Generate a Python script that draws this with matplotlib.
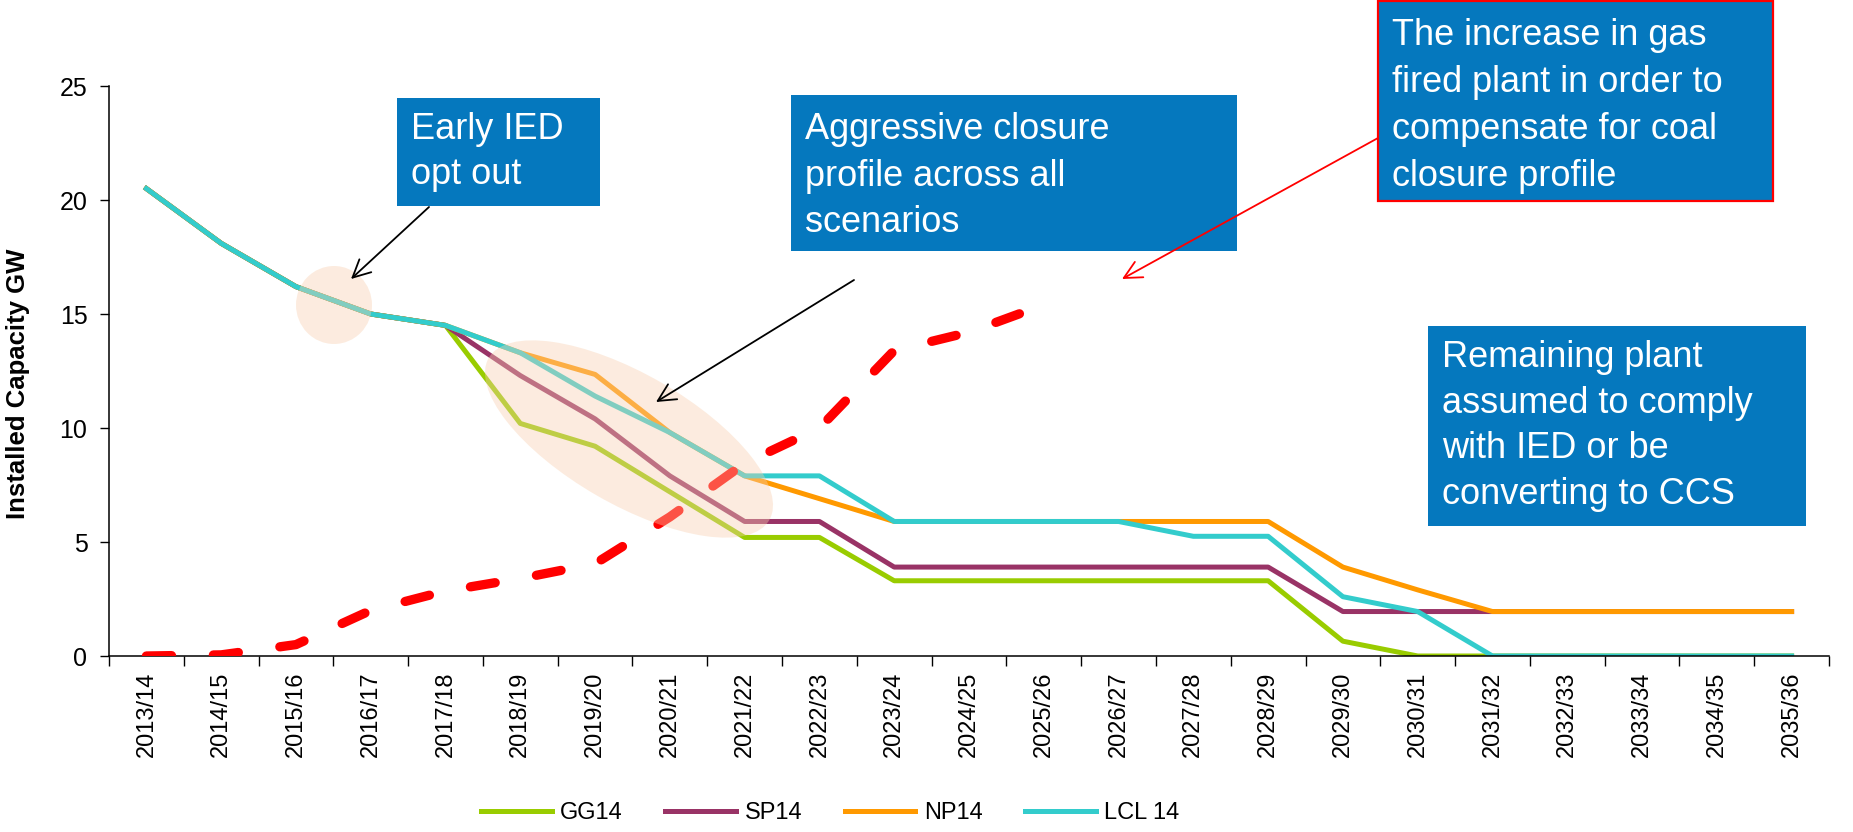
import matplotlib
matplotlib.use("Agg")
import matplotlib.pyplot as plt
import numpy as np
from matplotlib.patches import Ellipse, Rectangle, FancyArrowPatch

plt.rcParams['font.family'] = ['Liberation Sans', 'DejaVu Sans']

# categories
years = ["2013/14", "2014/15", "2015/16", "2016/17", "2017/18", "2018/19",
         "2019/20", "2020/21", "2021/22", "2022/23", "2023/24", "2024/25",
         "2025/26", "2026/27", "2027/28", "2028/29", "2029/30", "2030/31",
         "2031/32", "2032/33", "2033/34", "2034/35", "2035/36"]

# coal capacity by scenario, GW
gg14 = [20.5, 18.1, 16.2, 15.0, 14.5, 10.2, 9.2, 7.2, 5.2, 5.2, 3.3, 3.3,
        3.3, 3.3, 3.3, 3.3, 0.65, 0, 0, 0, 0, 0, 0]
sp14 = [20.5, 18.1, 16.2, 15.0, 14.5, 12.3, 10.4, 7.9, 5.9, 5.9, 3.9, 3.9,
        3.9, 3.9, 3.9, 3.9, 1.95, 1.95, 1.95, 1.95, 1.95, 1.95, 1.95]
np14 = [20.5, 18.1, 16.2, 15.0, 14.5, 13.3, 12.35, 9.8, 7.9, 6.9, 5.9, 5.9,
        5.9, 5.9, 5.9, 5.9, 3.9, 2.9, 1.95, 1.95, 1.95, 1.95, 1.95]
lcl14 = [20.5, 18.1, 16.2, 15.0, 14.5, 13.3, 11.4, 9.8, 7.9, 7.9, 5.9, 5.9,
         5.9, 5.9, 5.25, 5.25, 2.6, 1.95, 0, 0, 0, 0, 0]

# extra gas fired plant, GW (2013/14 .. 2025/26)
gas = [0, 0.05, 0.5, 2.0, 2.85, 3.4, 4.05, 6.1, 8.45, 10.0, 13.4, 14.2, 15.4]

series = [("GG14", gg14, "#99CC00"), ("SP14", sp14, "#993366"),
          ("NP14", np14, "#FF9900"), ("LCL 14", lcl14, "#33CCCC")]

W, H = 1853, 832
fig = plt.figure(figsize=(W / 100, H / 100), dpi=100)
ax = fig.add_axes([109 / W, 1 - 656 / H, (1829 - 109) / W, (656 - 86) / H])

x = np.arange(len(years))
for name, vals, col in series:
    ax.plot(x, vals, color=col, lw=3.6, label=name, zorder=2)

xg = np.arange(len(gas))
ax.plot(xg, gas, color="#FF0000", lw=6.7, dashes=(2.7, 4.5),
        dash_capstyle="round", zorder=3)

ax.set_xlim(-0.5, len(years) - 0.5)
ax.set_ylim(0, 25)
ax.set_yticks(np.arange(0, 26, 5))
ax.set_xticks(np.arange(-0.5, len(years), 1))
ax.set_xticklabels([])
ax.set_xticks(x, labels=years, minor=True, rotation=90)
ax.tick_params(axis="x", which="major", length=7, width=1, direction="out")
ax.tick_params(axis="x", which="minor", length=0, pad=11, labelsize=17)
ax.tick_params(axis="y", length=6.5, width=1, pad=9, labelsize=18)
for s in ["top", "right"]:
    ax.spines[s].set_visible(False)
for s in ["left", "bottom"]:
    ax.spines[s].set_linewidth(1.1)
ax.set_ylabel("Installed Capacity GW", fontsize=18.5, fontweight="bold")
ax.yaxis.set_label_coords(-0.046, 0.477)

fig.legend(loc="center", bbox_to_anchor=(0.448, 0.023), ncol=4,
           frameon=False, fontsize=17, handlelength=3.0,
           handletextpad=0.35, columnspacing=1.8)


# figure pixel helpers (top-left origin)
def fx(px):
    return px / W


def fy(py):
    return 1 - py / H


# shaded ellipses (drawn over the axes, semi transparent)
for cx, cy, ew, eh, ang in [(334, 305, 76, 78, 0), (629, 439, 324, 130, -30)]:
    e = Ellipse((cx / 100, (H - cy) / 100), ew / 100, eh / 100, angle=ang,
                transform=fig.dpi_scale_trans, facecolor="#F8CFAF",
                alpha=0.4, edgecolor="none", zorder=4)
    fig.add_artist(e)

# x0, y0, x1, y1 (pixels), text, border colour, line spacing, text centre offset
boxes = [
    (397, 98, 600, 206, "Early IED\nopt out", "none", 1.4, 0),
    (791, 95, 1237, 251, "Aggressive closure\nprofile across all\nscenarios", "none", 1.42, 3),
    (1378, 1, 1773, 201, "The increase in gas\nfired plant in order to\ncompensate for coal\nclosure profile", "#FF0000", 1.45, 5),
    (1428, 326, 1806, 526, "Remaining plant\nassumed to comply\nwith IED or be\nconverting to CCS", "none", 1.4, 0),
]
for x0, y0, x1, y1, txt, ec, ls, dy in boxes:
    r = Rectangle((fx(x0), fy(y1)), fx(x1 - x0), (y1 - y0) / H,
                  transform=fig.transFigure, facecolor="#0578BE",
                  edgecolor=ec, lw=1.6, zorder=5)
    fig.add_artist(r)
    fig.text(fx(x0 + 14), fy((y0 + y1) / 2 + dy), txt, color="white",
             fontsize=26, ha="left", va="center", linespacing=ls, zorder=6)

arrows = [((429, 207), (351, 279), "black"),
          ((854, 280), (656, 402), "black"),
          ((1378, 138), (1122, 279), "#FF0000")]
for (xa, ya), (xb, yb), col in arrows:
    a = FancyArrowPatch((fx(xa), fy(ya)), (fx(xb), fy(yb)),
                        transform=fig.transFigure,
                        arrowstyle="->,head_length=0.7,head_width=0.35",
                        mutation_scale=18, color=col, lw=1.3,
                        shrinkA=0, shrinkB=0, zorder=6)
    fig.add_artist(a)

fig.savefig("out.png", dpi=100)
